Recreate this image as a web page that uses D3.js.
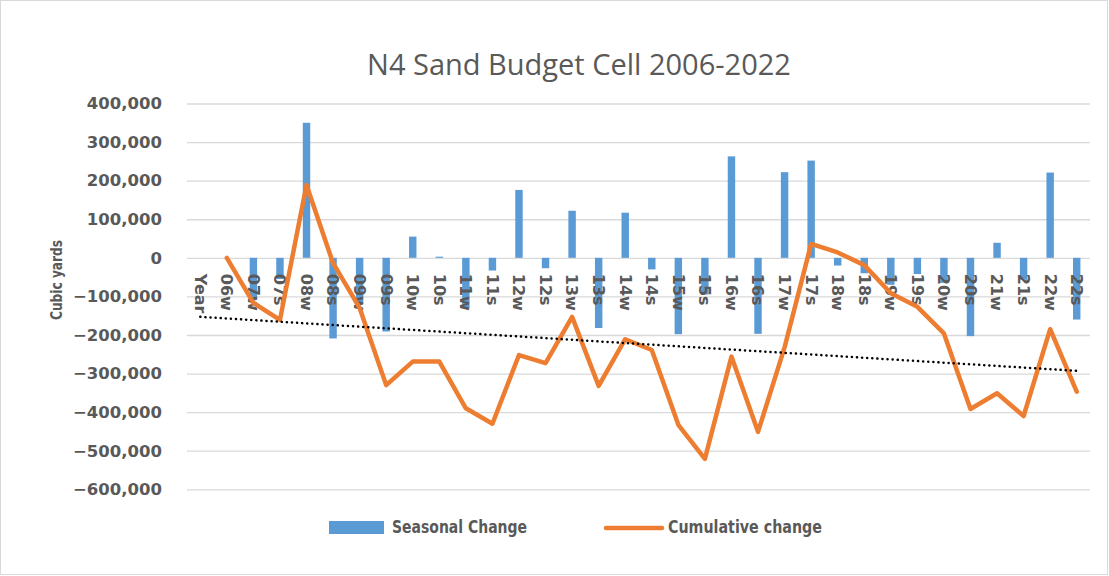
<!DOCTYPE html>
<html>
<head>
<meta charset="utf-8">
<script src="https://cdn.jsdelivr.net/npm/d3@7"></script>
<style>
  html, body { margin: 0; padding: 0; background: #fff; }
  svg { display: block; }
</style>
</head>
<body>
<svg id="chart" width="1109" height="576"></svg>
<script>
const categories = ["Year","06w","07w","07s","08w","08s","09w","09s","10w","10s","11w","11s","12w","12s","13w","13s","14w","14s","15w","15s","16w","16s","17w","17s","18w","18s","19w","19s","20w","20s","21w","21s","22w","22s"];
const seasonalChange = [null,null,-110000,-55000,350000,-209000,-120000,-191000,55000,3000,-130000,-33000,176000,-27000,122000,-182000,117000,-30000,-198000,-95000,263000,-197000,222000,252000,-20000,-40000,-70000,-42000,-65000,-203000,39000,-57000,221000,-160000];
const cumulativeChange = [null,0,-117000,-161000,189000,-14000,-130000,-330000,-269000,-269000,-390000,-430000,-252000,-273000,-153000,-332000,-211000,-239000,-433000,-521000,-256000,-451000,-232000,36000,14000,-19000,-92000,-127000,-196000,-392000,-351000,-410000,-185000,-347000];
const trendEndpoints = [-153000,-293000];
const yTickValues = [400000,300000,200000,100000,0,-100000,-200000,-300000,-400000,-500000,-600000];
const titleText = "N4 Sand Budget Cell 2006-2022";
const yAxisTitle = "Cubic yards";
const legendLabels = ["Seasonal Change","Cumulative change"];

const svg = d3.select("#chart");
const textColor = "#595959";
const gridColor = "#d9d9d9";
const barColor = "#5b9bd5";
const lineColor = "#ed7d31";

// chart border
svg.append("rect").attr("x",0.5).attr("y",0.5).attr("width",1107).attr("height",574)
  .attr("fill","#fff").attr("stroke","#d9d9d9").attr("stroke-width",1);

const plotLeft = 187, plotRight = 1090;
const x = d3.scaleBand().domain(categories).range([plotLeft, plotRight]).padding(0);
const y = d3.scaleLinear().domain([-600000, 400000]).range([489.3, 103.5]);
const cx = c => x(c) + x.bandwidth()/2;

// title
svg.append("text").attr("x",579).attr("y",75).attr("text-anchor","middle")
  .attr("font-family","'Open Sans', sans-serif").attr("font-size",29)
  .attr("fill",textColor).text(titleText);

// gridlines
const grid = svg.append("g").attr("transform",`translate(${plotLeft},0)`)
  .call(d3.axisLeft(y).tickValues(yTickValues).tickSize(-(plotRight-plotLeft)).tickFormat(""));
grid.select(".domain").remove();
grid.selectAll("line").attr("stroke",gridColor).attr("stroke-width",1.3);

// y axis labels
const yAxis = svg.append("g").attr("transform",`translate(${plotLeft},0)`)
  .call(d3.axisLeft(y).tickValues(yTickValues).tickSize(0).tickPadding(25).tickFormat(d3.format(",")));
yAxis.select(".domain").remove();
yAxis.selectAll("text").attr("font-family","'DejaVu Sans', sans-serif").attr("font-weight","bold")
  .attr("font-size",16.5).attr("fill",textColor);

// y axis title
svg.append("text").attr("transform","translate(62,280) rotate(-90)").attr("text-anchor","middle")
  .attr("font-family","'DejaVu Sans', sans-serif").attr("font-weight","bold").attr("font-size",16)
  .attr("textLength",80).attr("lengthAdjust","spacingAndGlyphs")
  .attr("fill",textColor).text(yAxisTitle);

// bars
const barW = x.bandwidth()*0.28;
svg.append("g").selectAll("rect").data(categories.map((c,i)=>({c, v: seasonalChange[i]})).filter(d=>d.v!==null))
  .join("rect")
  .attr("x", d => cx(d.c) - barW/2)
  .attr("width", barW)
  .attr("y", d => Math.min(y(d.v), y(0)))
  .attr("height", d => Math.abs(y(d.v) - y(0)))
  .attr("fill", barColor);

// x axis labels
const xAxis = svg.append("g").attr("transform",`translate(0,${y(0)})`)
  .call(d3.axisBottom(x).tickSize(0).tickPadding(0));
xAxis.select(".domain").remove();
xAxis.selectAll("text")
  .attr("font-family","'DejaVu Sans', sans-serif").attr("font-weight","bold").attr("font-size",16)
  .attr("fill",textColor)
  .attr("text-anchor","start")
  .attr("dy","0.35em")
  .attr("y",0).attr("x",0)
  .attr("transform","translate(0,16) rotate(90)");

// cumulative line
const lineData = categories.map((c,i)=>({c, v: cumulativeChange[i]})).filter(d=>d.v!==null);
svg.append("path").datum(lineData)
  .attr("d", d3.line().x(d=>cx(d.c)).y(d=>y(d.v)))
  .attr("fill","none").attr("stroke",lineColor).attr("stroke-width",4.5)
  .attr("stroke-linejoin","round").attr("stroke-linecap","round");

// trend line
svg.append("line")
  .attr("x1", cx(categories[0])).attr("y1", y(trendEndpoints[0]))
  .attr("x2", cx(categories[categories.length-1])).attr("y2", y(trendEndpoints[1]))
  .attr("stroke","#000").attr("stroke-width",2.5)
  .attr("stroke-dasharray","0.1,5").attr("stroke-linecap","round");

// legend
const lg = svg.append("g");
lg.append("rect").attr("x",329).attr("y",521).attr("width",55).attr("height",13).attr("fill",barColor);
lg.append("text").attr("x",392).attr("y",533)
  .attr("font-family","'DejaVu Sans', sans-serif").attr("font-weight","bold").attr("font-size",18)
  .attr("textLength",135).attr("lengthAdjust","spacingAndGlyphs")
  .attr("fill",textColor).text(legendLabels[0]);
lg.append("line").attr("x1",606).attr("x2",662).attr("y1",528).attr("y2",528)
  .attr("stroke",lineColor).attr("stroke-width",4.5).attr("stroke-linecap","round");
lg.append("text").attr("x",668).attr("y",533)
  .attr("font-family","'DejaVu Sans', sans-serif").attr("font-weight","bold").attr("font-size",18)
  .attr("textLength",154).attr("lengthAdjust","spacingAndGlyphs")
  .attr("fill",textColor).text(legendLabels[1]);
</script>
</body>
</html>
